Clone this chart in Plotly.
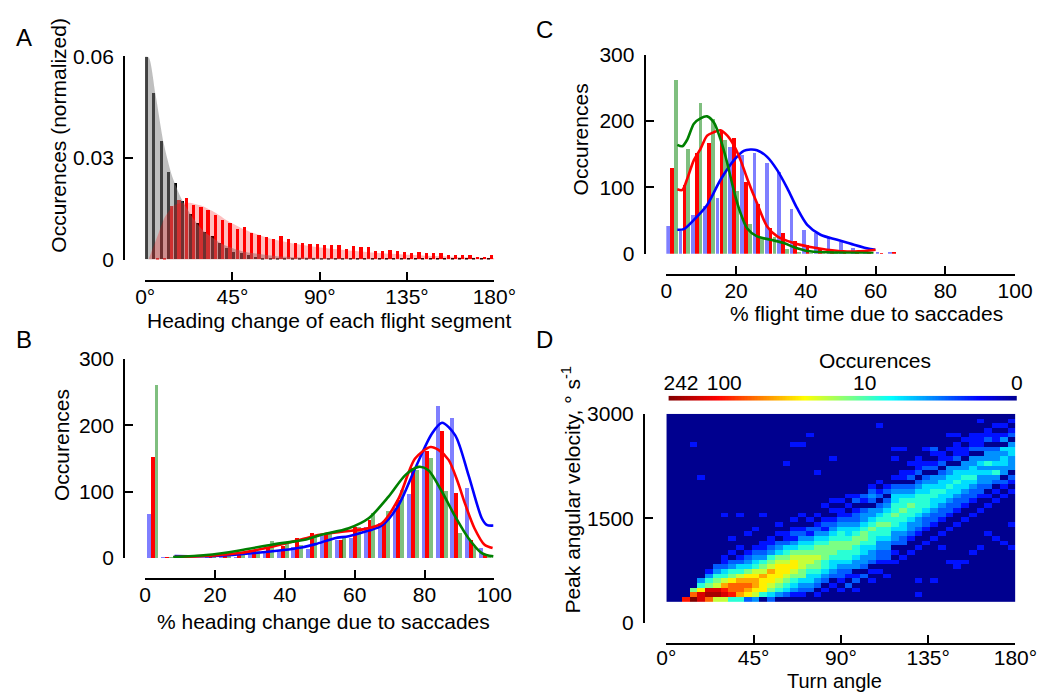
import numpy as np
import plotly.graph_objects as go

# The page is photographed with an 8px body margin and a ~0.972 overall scale;
# positions below are given in the photographed (reference) pixel frame and
# converted to figure fractions by px()/py().
S = 0.972
OFF = 8
FW, FH = 1054, 695
def fx(X): return X / S - OFF
def px(X): return fx(X) / FW
def py(Y): return 1 - fx(Y) / FH

FONT = "Liberation Sans, Arial, Helvetica, sans-serif"
FS = 21

# ---------------- Panel A : heading change of each flight segment ----------------
A_BIN_WIDTH = 3.75  # degrees per bin
A_SACCADE = [0.0597, 0.0491, 0.0349, 0.0258, 0.0225, 0.0173, 0.0135, 0.0106, 0.0081, 0.0069,
             0.0047, 0.0034, 0.0023, 0.0018, 0.0013, 0.0008, 0.0005, 0.0003,
             0.0003, 0.0003, 0.0002, 0.0003, 0.0002, 0.0002, 0.0003, 0.0002, 0.0002, 0.0002,
             0.0001, 0.0002, 0.0002, 0.0001, 0.0002, 0.0001, 0.0001, 0.0002, 0.0001, 0.0001,
             0.0001, 0.0001, 0.0002, 0.0001, 0.0001, 0.0001, 0.0001, 0.0001, 0.0002, 0.0001]
A_SEGMENT = [0.0, 0.0003, 0.0005, 0.0157, 0.0174, 0.0181, 0.0159, 0.0155, 0.0145, 0.0131,
             0.0117, 0.0108, 0.0090, 0.0095, 0.0078, 0.0073, 0.0067, 0.0059, 0.0069, 0.0061,
             0.0047, 0.0047, 0.0046, 0.0044, 0.0041, 0.0041, 0.0043, 0.0031, 0.0039, 0.0037,
             0.0037, 0.0025, 0.0025, 0.0027, 0.0025, 0.0023, 0.0020, 0.0023, 0.0018, 0.0018,
             0.0018, 0.0012, 0.0014, 0.0012, 0.0012, 0.0008, 0.0008, 0.0012]
A_FIT_SAC_X = [0, 1.9, 5.3, 9.6, 13.9, 19, 25, 30, 40, 50, 70, 100, 140, 180]
A_FIT_SAC_Y = [0.060, 0.0596, 0.0489, 0.0342, 0.0246, 0.0176, 0.0120, 0.0085, 0.0045, 0.0025,
               0.0009, 0.0004, 0.0002, 0.0001]
A_FIT_SEG_X = [1.7, 6.9, 10.3, 15.4, 22.3, 29.1, 36, 42.9, 51.4, 63.4, 77.1, 97.7, 114.9, 140.6, 166, 180]
A_FIT_SEG_Y = [0.0, 0.0078, 0.0127, 0.0162, 0.0168, 0.0159, 0.0139, 0.0113, 0.0088, 0.0064,
               0.0047, 0.0031, 0.0022, 0.0013, 0.0007, 0.0005]
A_TICKS = [0, 45, 90, 135, 180]
A_TICKTEXT = ['0°', '45°', '90°', '135°', '180°']

# ---------------- Panel B : % heading change due to saccades ----------------
B_BIN_WIDTH = 4.14
B_BLUE = [66, 1, 0, 0, 2, 4, 2, 6, 10, 10, 17, 14, 33, 27.6, 29.5, 47, 53, 75, 97, 163.5, 229.5, 211, 105, 15]
B_RED = [152.5, 1, 0, 0, 3, 7, 7.5, 12, 16, 18, 30.5, 37, 36.5, 27, 47, 56.5, 53, 87, 135, 161.5, 192, 98.5, 27.5, 6.5]
B_GREEN = [260.5, 1, 0, 0, 2, 4.5, 6, 10, 26, 22, 20, 35, 36, 31, 46, 68.5, 71, 102, 132, 151, 101.5, 38, 17, 3]
B_FIT_BLUE_X = [8.4, 20, 31.4, 44.8, 48.8, 54.3, 58.3, 63.8, 67.8, 72.6, 77.3, 82.1, 85, 88.8, 92.6, 96.4, 97.8, 99.7]
B_FIT_BLUE_Y = [3, 3, 7.5, 16, 21, 30, 33, 41, 49, 80, 135, 187.5, 204, 185, 125, 60, 50, 49]
B_FIT_RED_X = [8.4, 20, 27, 36.6, 46.1, 50, 57, 63, 67.8, 72.6, 77.3, 81.7, 84, 86.9, 89.5, 91.6, 94.3, 97.2, 99.5]
B_FIT_RED_Y = [1.5, 4, 7.5, 17.5, 30, 35, 40, 44, 52.5, 90, 150, 167.5, 163, 148, 115, 82, 45, 20, 15]
B_FIT_GREEN_X = [8, 17.5, 27, 36.6, 46.1, 50, 58.3, 64, 69.7, 74.5, 78.3, 81.1, 85, 88.8, 92.6, 96.4, 99.7]
B_FIT_GREEN_Y = [1.5, 4.5, 11.5, 20.5, 28, 34.5, 45, 60, 92.5, 125, 137.5, 132.5, 100, 62.5, 30, 7.5, 2.5]

# ---------------- Panel C : % flight time due to saccades ----------------
C_BIN_WIDTH = 3.53
C_BLUE = [42, 35, 58, 73, 85, 161.5, 148.5, 152, 137.5, 124, 68.5, 36, 32, 26, 18.5, 8.5, 5, 3.5, 3.5]
C_RED = [130, 104.5, 152.5, 167.5, 187, 175, 108, 75, 38.5, 31, 19, 13, 8, 5, 3, 2, 1, 1, 1.5]
C_GREEN = [262.5, 158.5, 227.5, 203.5, 172, 95, 44.5, 26, 26, 8, 3, 2, 1, 1, 0.5, 0.5, 0, 0, 0]
C_FIT_GREEN_X = [3.15, 4.6, 6.0, 7.9, 9.8, 11.7, 13.6, 15.5, 17.5, 19.4, 21.3, 23.2, 26, 29.9, 33.7, 36.5, 40.4, 46.1, 59.4]
C_FIT_GREEN_Y = [164, 162, 172, 196, 204, 207, 198, 173, 136, 94, 61, 38, 26, 21, 16, 10, 4, 2, 1]
C_FIT_RED_X = [3.15, 4.6, 6.0, 7.9, 9.8, 11.7, 13.6, 15.5, 17.5, 19.4, 21.3, 23.2, 26, 28.9, 31.8, 36.5, 41.3, 46.1, 50.8, 55, 60]
C_FIT_RED_Y = [97, 96, 113, 141, 158, 178, 183, 186, 178, 163, 141, 113, 76, 41, 26, 16, 10, 6, 3.5, 3.5, 6]
C_FIT_BLUE_X = [3.15, 5, 7.9, 11.7, 15.5, 19.4, 22.2, 24.1, 26, 28.9, 31.8, 34.7, 37.5, 40.4, 44.2, 49, 53.8, 58.5, 59.9]
C_FIT_BLUE_Y = [36, 37, 51, 73.5, 111, 141, 155, 157, 156, 146, 126, 98.5, 68.5, 43.5, 28.5, 21, 13.5, 7, 6]

# ---------------- Panel D : turn angle vs peak angular velocity ----------------
D_COL_WIDTH = 4.0      # degrees per column (45 columns)
D_ROW_HEIGHT = 67.5    # deg/s per row (40 rows)
D_V0 = 300.0           # lowest velocity shown
D_NROWS = 40
D_LEVELS = {'.': 0, '1': 1, '2': 2, '3': 3, '4': 5, '5': 8, '6': 13, '7': 20, '8': 30,
            '9': 45, 'a': 65, 'b': 100, 'c': 140, 'd': 190, 'e': 242}
# one string per turn-angle column, read from the lowest velocity row upward
D_COLUMNS = [
    "",
    "",
    "b",
    "ea6",
    "cc853",
    "adc6531",
    "7dc76532",
    "7cb9754211",
    "5baa86532.1",
    "59aa975421.1",
    "289a9864321",
    "378998754321",
    ".588897653211",
    "24678897653211",
    ".356788876432.1.1",
    ".24567887654211",
    ".134567887643121.1",
    ".123466777654321..1",
    "..23445677654312.1",
    ".1.23456676654321.1",
    "..1.23455666543121..1",
    "...1.2344566654321.1.1",
    "..1.1223455665543211.1",
    "...2.12345566544321.1.1",
    "..1.21.3345566543221.21",
    ".....2.2334456654332.12",
    "....1.1.233455565433.2321",
    "......1.1223345565432.21.1",
    ".....1..12233455655432.21",
    "........1.1.2334556554432.1",
    ".........1..2234455655432.11",
    "..........1..123345565432.21",
    ".1..1......1..123345555432.211",
    "............1..122345554432.21",
    "....1........1..12234455433.21",
    "...........1..1..12234454432.211",
    "........1......1..12234454433.1",
    ".......11.......1..1223445443.211",
    "........1........1..1223445433.11",
    "..........1.......1..1223454433.211",
    "...........1.......1..122334343.2111",
    "..............1.....1.1.233435332.21",
    ".............1.......1.1.23534332.11",
    "............1.........1.12.334434.31",
    "...........1....1......1.12.333443.21",
]
# isolated cells (column, row, count)
D_SPECKS = [(3, 33, 1), (4, 26, 1), (7, 18, 1), (8, 13, 1), (9, 18, 1), (10, 14, 1), (11, 15, 1),
            (12, 18, 1), (15, 29, 1), (16, 33, 1), (17, 33, 1), (18, 35, 1), (19, 27, 1), (21, 30, 1),
            (27, 37, 1), (29, 30, 1), (29, 32, 1), (30, 32, 1), (31, 29, 1), (32, 30, 1), (33, 32, 1),
            (34, 31, 1), (34, 32, 2), (36, 32, 1), (36, 35, 1), (37, 33, 1), (37, 35, 1), (38, 34, 1),
            (39, 35, 1), (40, 38, 1), (41, 36, 1), (42, 37, 1), (43, 37, 1), (44, 38, 1)]
D_MAX_COUNT = 242
CB_TICK_COUNTS = [242, 100, 10, 0]

JET = [[0.0, 'rgb(0,0,143)'], [0.11, 'rgb(0,0,255)'], [0.36, 'rgb(0,255,255)'],
       [0.61, 'rgb(255,255,0)'], [0.86, 'rgb(255,0,0)'], [1.0, 'rgb(128,0,0)']]

BLUE_BAR = 'rgba(0,0,255,0.5)'
RED_BAR = '#ff0000'
GREEN_BAR = 'rgba(0,128,0,0.5)'

fig = go.Figure()

# ---- Panel A
fig.add_trace(go.Scatter(x=A_FIT_SAC_X, y=A_FIT_SAC_Y, mode='lines',
                         line=dict(width=0, shape='spline', smoothing=0.7),
                         fill='tozeroy', fillcolor='rgba(128,128,128,0.5)',
                         xaxis='x', yaxis='y', hoverinfo='skip'))
fig.add_trace(go.Scatter(x=A_FIT_SEG_X, y=A_FIT_SEG_Y, mode='lines',
                         line=dict(width=0, shape='spline', smoothing=0.7),
                         fill='tozeroy', fillcolor='rgba(255,0,0,0.25)',
                         xaxis='x', yaxis='y', hoverinfo='skip'))
a_black_x = [k * A_BIN_WIDTH + 0.8 for k in range(len(A_SACCADE))]
a_red_x = [k * A_BIN_WIDTH + 2.55 for k in range(len(A_SEGMENT))]
fig.add_trace(go.Bar(x=a_black_x, y=A_SACCADE, width=1.55, marker=dict(color='black', line=dict(width=0)),
                     xaxis='x', yaxis='y'))
fig.add_trace(go.Bar(x=a_red_x, y=A_SEGMENT, width=1.7, marker=dict(color=RED_BAR, line=dict(width=0)),
                     xaxis='x', yaxis='y'))

# ---- Panel B
bw = 1.12
for vals, off, col in [(B_BLUE, 1.1, BLUE_BAR), (B_RED, 2.2, RED_BAR), (B_GREEN, 3.3, GREEN_BAR)]:
    fig.add_trace(go.Bar(x=[k * B_BIN_WIDTH + off for k in range(len(vals))], y=vals, width=bw,
                         marker=dict(color=col, line=dict(width=0)), xaxis='x2', yaxis='y2'))
for xs, ys, col in [(B_FIT_BLUE_X, B_FIT_BLUE_Y, '#0000ff'), (B_FIT_RED_X, B_FIT_RED_Y, '#ff0000'),
                    (B_FIT_GREEN_X, B_FIT_GREEN_Y, '#008000')]:
    fig.add_trace(go.Scatter(x=xs, y=ys, mode='lines', line=dict(color=col, width=2.6, shape='spline', smoothing=0.8),
                             xaxis='x2', yaxis='y2', hoverinfo='skip'))

# ---- Panel C
cw = 1.06
for vals, off, col in [(C_BLUE, 0.66, BLUE_BAR), (C_RED, 1.75, RED_BAR), (C_GREEN, 2.84, GREEN_BAR)]:
    fig.add_trace(go.Bar(x=[k * C_BIN_WIDTH + off for k in range(len(vals))], y=vals, width=cw,
                         marker=dict(color=col, line=dict(width=0)), xaxis='x3', yaxis='y3'))
for xs, ys, col in [(C_FIT_BLUE_X, C_FIT_BLUE_Y, '#0000ff'), (C_FIT_RED_X, C_FIT_RED_Y, '#ff0000'),
                    (C_FIT_GREEN_X, C_FIT_GREEN_Y, '#008000')]:
    fig.add_trace(go.Scatter(x=xs, y=ys, mode='lines', line=dict(color=col, width=2.6, shape='spline', smoothing=0.8),
                             xaxis='x3', yaxis='y3', hoverinfo='skip'))

# ---- Panel D
counts = np.zeros((D_NROWS, len(D_COLUMNS)))
for c, s in enumerate(D_COLUMNS):
    for r, ch in enumerate(s):
        counts[r, c] = D_LEVELS[ch]
for c, r, v in D_SPECKS:
    counts[r, c] = v
zlog = np.log10(counts + 1)
zmax = np.log10(D_MAX_COUNT + 1)
d_x = [D_COL_WIDTH * (c + 0.5) for c in range(len(D_COLUMNS))]
d_y = [D_V0 + D_ROW_HEIGHT * (r + 0.5) for r in range(D_NROWS)]
fig.add_trace(go.Heatmap(x=d_x, y=d_y, z=zlog, colorscale=JET, zmin=0, zmax=zmax, showscale=False,
                         xaxis='x4', yaxis='y4', hoverinfo='skip'))
# colour bar drawn as a one-row heatmap on its own axis
ramp = np.linspace(0, zmax, 240)
fig.add_trace(go.Heatmap(x=ramp, y=[0], z=[ramp], colorscale=JET, zmin=0, zmax=zmax, showscale=False,
                         xaxis='x5', yaxis='y5', hoverinfo='skip'))

tickfont = dict(family=FONT, size=FS, color='black')
base = dict(showgrid=False, zeroline=False, showline=True, linewidth=2, linecolor='black',
            ticks='inside', ticklen=8, tickwidth=2, tickcolor='black', tickfont=tickfont,
            anchor='free', fixedrange=True)

def xax(d0, d1, rng, pos, vals, text, standoff=-3):
    return dict(base, domain=[px(d0), px(d1)], range=rng, position=py(pos), tickvals=vals,
                ticktext=text, ticklabelstandoff=standoff)

def yax(d0, d1, rng, pos, vals, text, standoff=5):
    return dict(base, domain=[py(d1), py(d0)], range=rng, position=px(pos), tickvals=vals,
                ticktext=text, ticklabelstandoff=standoff)

cb_vals = [np.log10(v + 1) for v in CB_TICK_COUNTS]
cb_vals[0] = cb_vals[0] - 0.085  # label of the maximum sits just inside the bar end

fig.update_layout(
    width=FW, height=FH, margin=dict(l=0, r=0, t=0, b=0),
    paper_bgcolor='white', plot_bgcolor='rgba(0,0,0,0)', showlegend=False,
    barmode='overlay', bargap=0,
    font=dict(family=FONT, size=FS, color='black'),
    xaxis=xax(143.3, 493.3, [0, 180], 277.7, A_TICKS, A_TICKTEXT),
    yaxis=yax(52.3, 256.7, [0, 0.06], 122.2, [0, 0.03, 0.06], ['0', '0.03', '0.06']),
    xaxis2=xax(143.3, 493.3, [0, 100], 577.7, [0, 20, 40, 60, 80, 100], ['0', '20', '40', '60', '80', '100']),
    yaxis2=yax(356.7, 556.7, [0, 300], 122.2, [0, 100, 200, 300], ['0', '100', '200', '300']),
    xaxis3=xax(665.7, 1015.3, [0, 100], 271.7, [0, 20, 40, 60, 80, 100], ['0', '20', '40', '60', '80', '100']),
    yaxis3=yax(50.7, 250.7, [0, 300], 644.0, [0, 100, 200, 300], ['0', '100', '200', '300']),
    xaxis4=xax(665.7, 1015.7, [0, 180], 643.3, A_TICKS, A_TICKTEXT, standoff=-5),
    yaxis4=yax(411.7, 621.7, [0, 3000], 643.3, [0, 1500, 3000], ['0', '1500', '3000']),
    xaxis5=dict(domain=[px(668), px(1017)], range=[zmax, 0], anchor='y5', side='top',
                showline=False, showgrid=False, zeroline=False, ticks='', tickvals=cb_vals,
                ticktext=[str(v) for v in CB_TICK_COUNTS], tickfont=tickfont, ticklabelstandoff=1,
                fixedrange=True),
    yaxis5=dict(domain=[py(398.5), py(393.5)], range=[-0.5, 0.5], anchor='x5', visible=False, fixedrange=True),
)

ann = []
def label(text, x, y, size=FS, angle=0):
    ann.append(dict(text=text, x=px(x), y=py(y), xref='paper', yref='paper', showarrow=False,
                    xanchor='center', yanchor='middle', textangle=angle,
                    font=dict(family=FONT, size=size, color='black')))

label('A', 22, 33, 24)
label('B', 22, 337, 24)
label('C', 544, 25, 24)
label('D', 544, 337, 24)
label('Occurences (normalized)', 56, 132, angle=-90)
label('Heading change of each flight segment', 328, 318)
label('Occurences', 60, 443, angle=-90)
label('% heading change due to saccades', 322.5, 620)
label('Occurences', 580, 136, angle=-90)
label('% flight time due to saccades', 866.7, 311)
label('Peak angular velocity, ° s<sup>-1</sup>', 570, 488, angle=-90)
label('Turn angle', 834, 680.5, size=20)
label('Occurences', 875, 358)
fig.update_layout(annotations=ann)

fig.write_html("out.html")
